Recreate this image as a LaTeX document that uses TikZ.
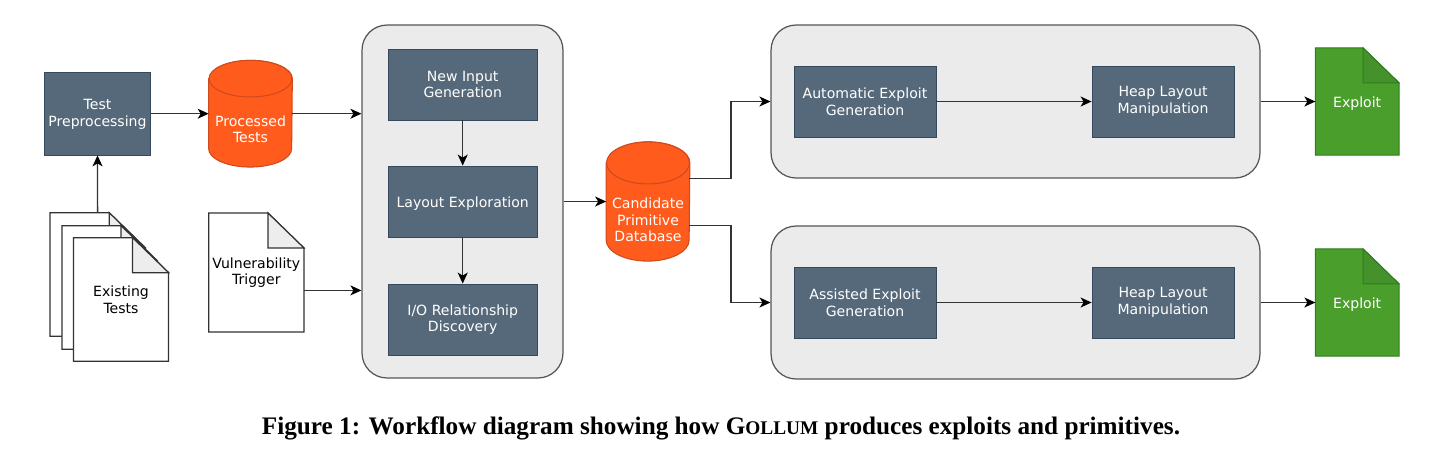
\documentclass[tikz,border=0pt]{standalone}
\usepackage{fontspec}
\setmainfont{DejaVu Sans}
\newfontfamily\captionfont{Liberation Serif}
\usetikzlibrary{arrows.meta,backgrounds,calc}
\definecolor{slatefill}{HTML}{56697A}
\definecolor{slateline}{HTML}{34495C}
\definecolor{orangefill}{HTML}{FF5B1C}
\definecolor{orangeline}{HTML}{CF4A1C}
\definecolor{greenfill}{HTML}{4A9E2C}
\definecolor{greenline}{HTML}{2F7D1E}
\definecolor{greenfold}{HTML}{45912C}
\definecolor{groupfill}{HTML}{EBEBEB}
\definecolor{groupline}{HTML}{555555}
\definecolor{pageline}{HTML}{333333}
% page outline with folded corner, behind the node text
\newcommand{\docpage}[3]{
    \begin{pgfonlayer}{background}
        \draw[#2] (#1.north west) -- ($(#1.north east)+(-36,0)$) -- ($(#1.north east)+(0,35)$)
            -- (#1.south east) -- (#1.south west) -- cycle;
        \draw[#3] ($(#1.north east)+(-36,0)$) -- ($(#1.north east)+(-36,35)$)
            -- ($(#1.north east)+(0,35)$) -- cycle;
    \end{pgfonlayer}
}
% drum round an empty node, #2 is the height of the end ellipse
\newcommand{\drum}[2]{
    \draw[drumline] ($(#1.north west)+(0,#2)$) -- ($(#1.south west)+(0,-#2)$)
        arc[start angle=180, end angle=360, x radius=0.83cm, y radius=#2*0.02cm]
        -- ($(#1.north east)+(0,#2)$)
        arc[start angle=0, end angle=180, x radius=0.83cm, y radius=#2*0.02cm] -- cycle;
    \draw[drumline] ($(#1.north)+(0,#2)$) ellipse[x radius=0.83cm, y radius=#2*0.02cm];
}
\begin{document}
\begin{tikzpicture}[
        x=0.02cm, y=-0.02cm,
        font=\fontsize{8pt}{9.5pt}\selectfont,
        lowered/.style={execute at begin node={\rule{0pt}{8.2pt}}},
        box/.style={
            lowered,
            draw=slateline,
            fill=slatefill,
            text=white,
            line width=0.5pt,
            align=center,
            inner sep=0pt,
            minimum height=1.42cm
        },
        sidebox/.style={box, minimum width=2.84cm},
        midbox/.style={box, minimum width=2.98cm},
        groupbox/.style={
            draw=groupline,
            fill=groupfill,
            line width=0.7pt,
            rounded corners=0.5cm,
            inner sep=0pt
        },
        store/.style={inner sep=0pt, minimum width=1.66cm},
        drumline/.style={draw=orangeline, fill=orangefill, line width=0.6pt},
        storetext/.style={text=white, align=center, inner sep=0pt},
        docnode/.style={lowered, align=center, inner sep=0pt, minimum width=1.89cm, minimum height=2.46cm},
        page/.style={draw=pageline, fill=white, line width=0.7pt},
        pagefold/.style={draw=pageline, fill=black!7, line width=0.7pt},
        greenpage/.style={draw=greenline, fill=greenfill, line width=0.6pt},
        greenfoldpage/.style={draw=greenline, fill=greenfold, line width=0.6pt},
        exploitnode/.style={docnode, text=white, minimum width=1.66cm, minimum height=2.13cm},
        line/.style={draw=black!80, line width=0.75pt},
        arrow/.style={line, -{Stealth[length=0.22cm, width=0.2cm, inset=0.06cm, color=black]}}
    ]
        \useasboundingbox (0,0) rectangle (1446,458);

        \node[box, minimum width=2.13cm, minimum height=1.65cm] (preprocess) at (97.5,113.7) {};
        \node[storetext] (preprocesstext) at ($(preprocess.center)+(0,0.6)$) {Test\\Preprocessing};
        \node[store, minimum height=2.12cm] (processed) at (250.5,113.7) {};
        \drum{processed}{18.3}
        \node[storetext] (processedtext) at ($(processed.center)+(0,15.5)$) {Processed\\Tests};

        \node[docnode] (existingA) at (97.6,274.5) {};
        \node[docnode] (existingB) at (109.5,287.5) {};
        \node[docnode] (existingC) at (121,299.5) {Existing\\Tests};
        \docpage{existingA}{page}{pagefold}
        \docpage{existingB}{page}{pagefold}
        \docpage{existingC}{page}{pagefold}
        \node[docnode, minimum height=2.37cm] (trigger) at (256.3,272.5) {Vulnerability\\Trigger};
        \docpage{trigger}{page}{pagefold}

        \node[groupbox, minimum width=4.02cm, minimum height=7.06cm] (explorer) at (462.5,201.5) {};
        \node[midbox] (input) at (462.7,84.5) {New Input\\Generation};
        \node[midbox] (layout) at (462.7,201.5) {Layout Exploration};
        \node[midbox] (relation) at (462.7,319.5) {I/O Relationship\\Discovery};

        \node[store, minimum height=2.37cm] (candidate) at (648,201.5) {};
        \drum{candidate}{21}
        \node[storetext] (candidatetext) at ($(candidate.center)+(0,18.5)$) {Candidate\\Primitive\\Database};

        \node[groupbox, minimum width=9.78cm, minimum height=3.06cm] (autogroup) at (1015.5,101.5) {};
        \node[sidebox] (autogen) at (865,101.5) {Automatic Exploit\\Generation};
        \node[sidebox] (autoheap) at (1163,101.5) {Heap Layout\\Manipulation};

        \node[groupbox, minimum width=9.78cm, minimum height=3.06cm] (assistgroup) at (1015.5,302.5) {};
        \node[sidebox] (assistgen) at (865,302.5) {Assisted Exploit\\Generation};
        \node[sidebox] (assistheap) at (1163,302.5) {Heap Layout\\Manipulation};

        \node[exploitnode] (exploitA) at (1357.2,101.5) {Exploit};
        \docpage{exploitA}{greenpage}{greenfoldpage}
        \node[exploitnode] (exploitB) at (1357.2,302.5) {Exploit};
        \docpage{exploitB}{greenpage}{greenfoldpage}

        \coordinate (triggerout) at (303.7,290.4);
        \coordinate (candup) at (689,178.7);
        \coordinate (canddown) at (689,225.3);
        \coordinate (upbend) at (731,178.7);
        \coordinate (downbend) at (731,225.3);

        \draw[arrow] (existingA.north) -- (preprocess.south);
        \draw[arrow] (preprocess.east) -- (processed.west);
        \draw[arrow] (processed.east) -- (explorer.west |- processed.east);
        \draw[arrow] (triggerout) -- (explorer.west |- triggerout);
        \draw[arrow] (input.south) -- (layout.north);
        \draw[arrow] (layout.south) -- (relation.north);
        \draw[arrow] (explorer.east) -- (candidate.west);
        \draw[arrow] (candup) -- (upbend) |- (autogroup.west);
        \draw[arrow] (canddown) -- (downbend) |- (assistgroup.west);
        \draw[arrow] (autogen.east) -- (autoheap.west);
        \draw[arrow] (assistgen.east) -- (assistheap.west);
        \draw[arrow] (autogroup.east) -- (exploitA.west);
        \draw[arrow] (assistgroup.east) -- (exploitB.west);

        \node (caption) at (721,428.5) {\fontsize{14.35pt}{16pt}\selectfont\captionfont\bfseries Figure 1: Workflow diagram showing how G{\fontsize{11pt}{16pt}\selectfont OLLUM} produces exploits and primitives.};
    \end{tikzpicture}
\end{document}
